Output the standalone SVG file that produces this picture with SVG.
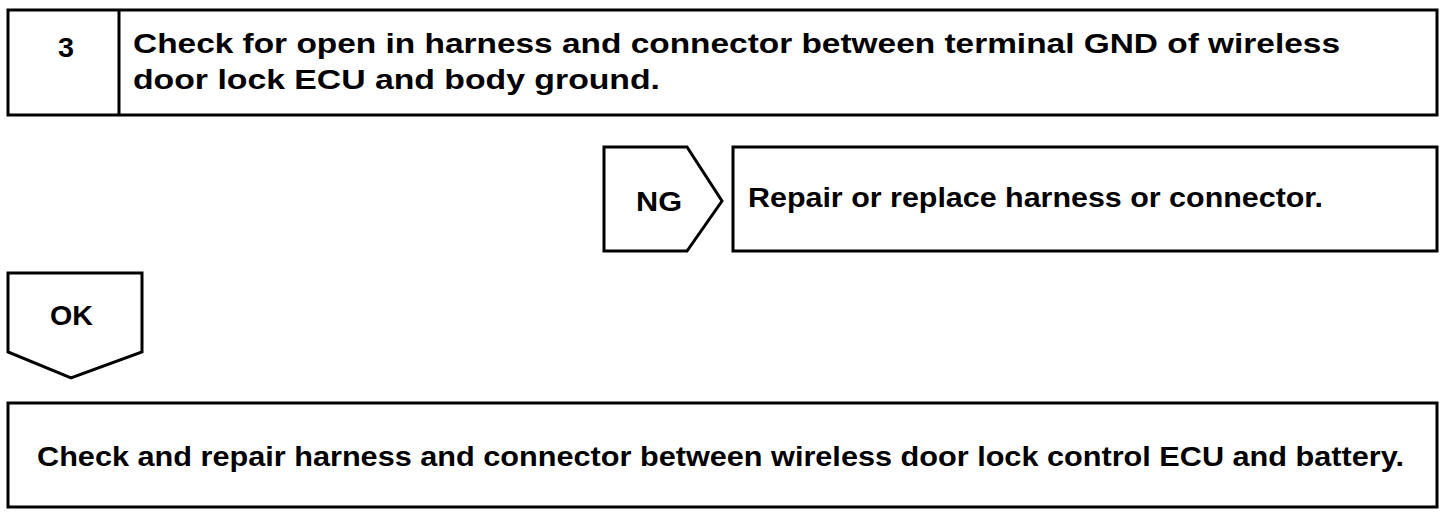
<svg xmlns="http://www.w3.org/2000/svg" width="1456" height="514" viewBox="0 0 1456 514">
<style>
.b{fill:#fff;stroke:#000;stroke-width:3}
.t{font-family:"Liberation Sans",Arial,sans-serif;font-weight:bold;font-size:28px;fill:#000}
</style>
<rect width="1456" height="514" fill="#fff"/>
<g id="step3">
<rect class="b" x="8" y="10" width="1429" height="105"/>
<line x1="119" y1="10" x2="119" y2="115" stroke="#000" stroke-width="3"/>
<text class="t" x="58" y="57" textLength="16" lengthAdjust="spacingAndGlyphs">3</text>
<text class="t" x="133" y="53" textLength="1207" lengthAdjust="spacingAndGlyphs">Check for open in harness and connector between terminal GND of wireless</text>
<text class="t" x="133" y="89" textLength="527" lengthAdjust="spacingAndGlyphs">door lock ECU and body ground.</text>
</g>
<g id="ng">
<path class="b" d="M604,147 H687 L722,201 L687,251 H604 Z"/>
<text class="t" x="636" y="211" textLength="46" lengthAdjust="spacingAndGlyphs" style="font-size:27px">NG</text>
</g>
<g id="repair">
<rect class="b" x="733" y="147" width="704" height="104"/>
<text class="t" x="748" y="207" textLength="575" lengthAdjust="spacingAndGlyphs" style="font-size:27px">Repair or replace harness or connector.</text>
</g>
<g id="ok">
<path class="b" d="M8,273 H142 V352 L71,378 L8,352 Z"/>
<text class="t" x="50" y="325" textLength="43" lengthAdjust="spacingAndGlyphs">OK</text>
</g>
<g id="final">
<rect class="b" x="8" y="403" width="1429" height="104"/>
<text class="t" x="37" y="466" textLength="1367" lengthAdjust="spacingAndGlyphs">Check and repair harness and connector between wireless door lock control ECU and battery.</text>
</g>
<g id="connectors"></g>
</svg>
